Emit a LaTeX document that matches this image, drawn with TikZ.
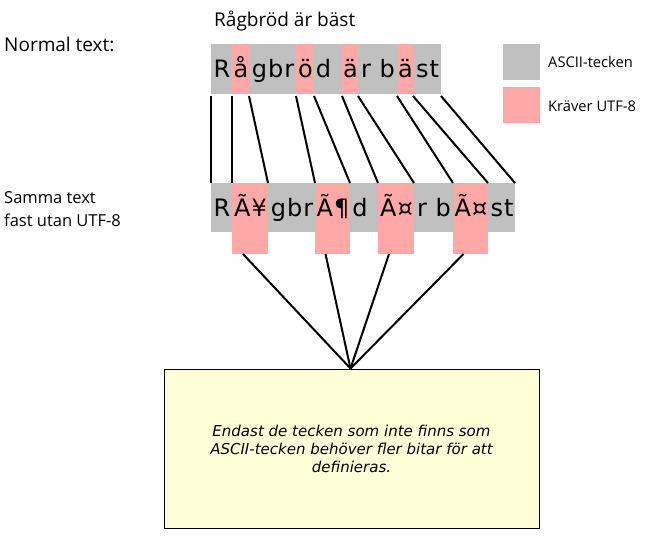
\documentclass[tikz,border=0pt]{standalone}
\usepackage{fontspec}
\setmainfont{Open Sans}
\newfontfamily\cellfont{DejaVu Sans}[LetterSpace=4]
\newfontfamily\notefont{DejaVu Sans}
\definecolor{asciigray}{RGB}{192,192,192}
\definecolor{utfpink}{RGB}{255,168,168}
\definecolor{noteyellow}{RGB}{255,255,215}
\begin{document}
\begin{tikzpicture}[x=1pt,y=-1pt,
  cellbox/.style={draw=none,inner sep=0pt,outer sep=0pt,anchor=north west},
  celltext/.style={inner sep=0pt,anchor=base,font=\cellfont\fontsize{24}{28}\selectfont},
  label/.style={inner sep=0pt,anchor=base west,font=\fontsize{19}{22}\selectfont},
  sidelabel/.style={inner sep=0pt,anchor=base west,font=\fontsize{16.5}{20}\selectfont},
  legendtext/.style={inner sep=0pt,anchor=base west,font=\fontsize{14.7}{17}\selectfont},
  link/.style={line width=2pt,black},
  notebox/.style={draw=black,line width=1pt,fill=noteyellow,inner sep=0pt,
    minimum width=375pt,minimum height=159pt,align=center,
    font=\notefont\itshape\fontsize{15}{18}\selectfont}]
\useasboundingbox (0,0) rectangle (650,538);

% labels
\node[label] (title) at (214,26) {Rågbröd är bäst};
\node[label] (normal) at (4,51) {Normal text:};
\node[sidelabel] (samma1) at (4,203) {Samma text};
\node[sidelabel] (samma2) at (4,226) {fast utan UTF-8};

% legend
\node[cellbox,fill=asciigray,minimum width=37pt,minimum height=36pt] (legA) at (503,44) {};
\node[cellbox,fill=utfpink,minimum width=37pt,minimum height=36pt] (legU) at (503,87) {};
\node[legendtext] (legAt) at (548,67.5) {ASCII-tecken};
\node[legendtext] (legUt) at (548,111) {Kräver UTF-8};

% top row cells
\foreach \n/\xa/\xb/\cx/\col/\txt in {1/211/232/222/asciigray/R,2/232/249/241/utfpink/å,3/249/296/273/asciigray/gbr,
  4/296/314/305.5/utfpink/ö,5/314/342/323.5/asciigray/d,6/342/358/350.5/utfpink/ä,7/358/397/378/asciigray/r b,
  8/397/413/405.5/utfpink/ä,9/413/441/427.5/asciigray/st}{
  \node[cellbox,fill=\col,minimum width={(\xb-\xa)*1pt},minimum height=50pt] (t\n) at (\xa,44) {};
  \node[celltext] (tt\n) at (\cx,77.3) {\txt};
}

% bottom row cells
\foreach \n/\xa/\xb/\cx/\col/\h/\txt in {1/211/232/222/asciigray/49/R,2/232/268/250.5/utfpink/71/Ã¥,3/268/315/292/asciigray/49/gbr,
  4/315/350/333/utfpink/71/Ã¶,5/350/378/360/asciigray/49/d,6/378/414/396.5/utfpink/71/Ã¤,7/414/453/434/asciigray/49/r b,
  8/453/488/471/utfpink/71/Ã¤,9/488/515/502/asciigray/49/st}{
  \node[cellbox,fill=\col,minimum width={(\xb-\xa)*1pt},minimum height=\h pt] (b\n) at (\xa,183) {};
  \node[celltext] (bt\n) at (\cx,216.7) {\txt};
}

% connectors between rows
\draw[link] ([yshift=-2pt]t1.south west) -- (b1.north west);
\draw[link] ([yshift=-2pt]t2.south west) -- (b2.north west);
\draw[link] ([yshift=-2pt]t3.south west) -- (b3.north west);
\draw[link] ([yshift=-2pt]t4.south west) -- (b4.north west);
\draw[link] ([yshift=-2pt]t5.south west) -- (b5.north west);
\draw[link] ([yshift=-2pt]t6.south west) -- (b6.north west);
\draw[link] ([yshift=-2pt]t7.south west) -- (b7.north west);
\draw[link] ([yshift=-2pt]t8.south west) -- (b8.north west);
\draw[link] ([yshift=-2pt]t9.south west) -- (b9.north west);
\draw[link] ([yshift=-2pt]t9.south east) -- (b9.north east);

% note
\node[notebox] (note) at (351.5,448.5) {Endast de tecken som inte finns som\\ASCII-tecken behöver fler bitar för att\\definieras.};
\coordinate (apex) at ([xshift=-1pt]note.north);

\draw[link] ([xshift=-7pt]b2.south) -- (apex);
\draw[link] ([xshift=-7pt]b4.south) -- (apex);
\draw[link] ([xshift=-7pt]b6.south) -- (apex);
\draw[link] ([xshift=-7pt]b8.south) -- (apex);
\end{tikzpicture}
\end{document}
